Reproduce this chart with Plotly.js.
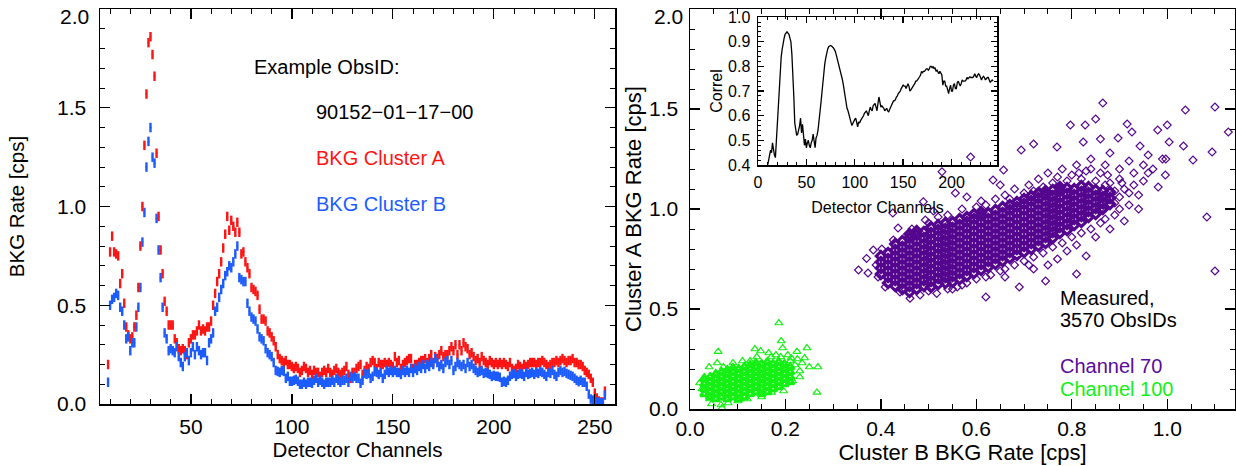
<!DOCTYPE html>
<html>
<head>
<meta charset="utf-8">
<script src="https://cdn.plot.ly/plotly-3.0.1.min.js"></script>
<style>html,body{margin:0;padding:0;background:#fff;}#chart{width:1236px;height:466px;}</style>
</head>
<body>
<div id="chart"></div>
<script>
// ---------------- DATA ----------------
// Example ObsID spectrum: first channel with data
const firstChannel = 9;
// BKG Cluster A rate [cps], channels 9..255
const bkgClusterA = [
  0.20,
  0.77,0.85,0.77,0.76,0.75,0.61,0.66,0.51,0.39,0.35,
  0.33,0.34,0.39,0.45,0.59,0.80,1.00,1.31,1.57,1.83,
  1.86,1.77,1.66,1.27,0.95,0.78,0.66,0.52,0.47,0.40,
  0.40,0.40,0.33,0.31,0.28,0.27,0.28,0.27,0.25,0.31,
  0.33,0.35,0.35,0.37,0.40,0.37,0.38,0.37,0.39,0.39,
  0.42,0.50,0.56,0.62,0.66,0.72,0.79,0.86,0.95,0.88,
  0.93,0.90,0.87,0.92,0.87,0.76,0.77,0.72,0.69,0.66,
  0.59,0.58,0.57,0.55,0.48,0.43,0.43,0.42,0.37,0.36,
  0.34,0.32,0.29,0.25,0.23,0.22,0.21,0.22,0.20,0.20,
  0.19,0.18,0.19,0.18,0.16,0.17,0.19,0.18,0.16,0.17,
  0.15,0.17,0.16,0.16,0.14,0.16,0.17,0.16,0.18,0.16,
  0.15,0.17,0.18,0.16,0.15,0.16,0.17,0.19,0.15,0.13,
  0.16,0.16,0.18,0.19,0.20,0.15,0.17,0.19,0.18,0.21,
  0.22,0.21,0.18,0.21,0.20,0.20,0.21,0.20,0.21,0.20,
  0.19,0.24,0.21,0.22,0.18,0.20,0.21,0.22,0.23,0.23,
  0.18,0.20,0.20,0.21,0.22,0.22,0.23,0.21,0.23,0.25,
  0.21,0.24,0.23,0.25,0.27,0.24,0.25,0.25,0.27,0.29,
  0.27,0.30,0.25,0.30,0.27,0.31,0.29,0.28,0.25,0.26,
  0.24,0.22,0.23,0.21,0.24,0.22,0.21,0.20,0.22,0.21,
  0.20,0.21,0.20,0.21,0.20,0.21,0.20,0.19,0.21,0.18,
  0.17,0.18,0.20,0.19,0.18,0.20,0.19,0.20,0.21,0.21,
  0.21,0.20,0.21,0.21,0.22,0.21,0.20,0.19,0.20,0.21,
  0.21,0.22,0.21,0.22,0.23,0.22,0.21,0.22,0.22,0.23,
  0.21,0.21,0.20,0.20,0.19,0.17,0.16,0.15,0.13,0.11,
  0.055,0.03,0.015,0.01,0.01,0.065
];
// BKG Cluster B rate [cps], channels 9..255
const bkgClusterB = [
  0.11,
  0.50,0.53,0.54,0.56,0.55,0.49,0.47,0.40,0.33,0.34,
  0.27,0.31,0.31,0.39,0.49,0.59,0.82,0.97,1.20,1.33,
  1.40,1.25,1.22,0.94,0.78,0.64,0.49,0.36,0.33,0.27,
  0.28,0.27,0.26,0.29,0.24,0.21,0.19,0.24,0.26,0.22,
  0.26,0.29,0.25,0.29,0.27,0.25,0.26,0.26,0.22,0.31,
  0.33,0.36,0.47,0.49,0.54,0.58,0.61,0.65,0.67,0.70,
  0.69,0.72,0.76,0.80,0.64,0.63,0.62,0.62,0.51,0.47,
  0.44,0.43,0.42,0.38,0.34,0.33,0.32,0.28,0.26,0.25,
  0.24,0.21,0.17,0.165,0.16,0.17,0.165,0.13,0.14,0.115,
  0.115,0.12,0.125,0.115,0.10,0.10,0.11,0.10,0.11,0.11,
  0.105,0.12,0.13,0.11,0.12,0.11,0.10,0.11,0.11,0.11,
  0.12,0.11,0.13,0.12,0.11,0.12,0.12,0.13,0.11,0.14,
  0.13,0.14,0.13,0.13,0.105,0.12,0.155,0.15,0.155,0.13,
  0.14,0.165,0.16,0.15,0.16,0.13,0.15,0.17,0.16,0.17,
  0.16,0.17,0.16,0.16,0.15,0.17,0.16,0.17,0.16,0.18,
  0.16,0.18,0.17,0.19,0.18,0.20,0.18,0.20,0.19,0.21,
  0.20,0.23,0.21,0.19,0.20,0.18,0.21,0.22,0.20,0.22,
  0.17,0.19,0.21,0.20,0.19,0.20,0.18,0.21,0.19,0.20,
  0.18,0.17,0.16,0.165,0.17,0.155,0.16,0.155,0.15,0.14,
  0.145,0.14,0.14,0.135,0.11,0.115,0.11,0.12,0.14,0.15,
  0.155,0.14,0.15,0.155,0.15,0.14,0.16,0.15,0.155,0.16,
  0.15,0.16,0.155,0.165,0.16,0.15,0.14,0.16,0.155,0.17,
  0.15,0.14,0.16,0.17,0.16,0.165,0.155,0.15,0.145,0.14,
  0.13,0.12,0.113,0.12,0.11,0.11,0.09,0.05,0.025,0.02,
  0.015,0.01,0.01,0.005,0.005,0.045
];
const rateError = 0.024;

// Rate-axis ticks (the top one is labelled separately, lower, as in the original)
const rateTickVals = [0, 0.5, 1.0, 1.5, 2.0];
const rateTickText = ['0.0', '0.5', '1.0', '1.5', ''];
const rateTopLabel = '2.0';

// Inset: correlation between clusters vs detector channel (channels 10..243)
const correlFirstChannel = 10;
const correlValues = [
  0.40,0.43,0.44,0.46,0.45,0.49,0.45,0.44,0.43,0.50,
  0.56,0.62,0.72,0.79,0.84,0.87,0.90,0.915,0.93,0.935,
  0.94,0.935,0.93,0.915,0.90,0.85,0.78,0.68,0.57,0.53,
  0.52,0.525,0.54,0.56,0.59,0.53,0.565,0.51,0.48,0.505,
  0.47,0.49,0.50,0.48,0.47,0.49,0.50,0.525,0.49,0.47,
  0.51,0.52,0.54,0.57,0.61,0.65,0.69,0.74,0.77,0.81,
  0.834,0.86,0.87,0.88,0.883,0.885,0.883,0.88,0.875,0.868,
  0.86,0.845,0.83,0.82,0.80,0.785,0.77,0.75,0.73,0.70,
  0.68,0.645,0.63,0.62,0.60,0.587,0.575,0.56,0.57,0.58,
  0.585,0.59,0.575,0.555,0.575,0.57,0.58,0.585,0.59,0.60,
  0.61,0.615,0.62,0.61,0.60,0.62,0.635,0.625,0.62,0.64,
  0.645,0.65,0.635,0.62,0.65,0.676,0.655,0.635,0.64,0.635,
  0.63,0.62,0.625,0.63,0.62,0.615,0.625,0.635,0.645,0.655,
  0.66,0.66,0.665,0.676,0.68,0.69,0.695,0.70,0.71,0.72,
  0.724,0.72,0.72,0.71,0.72,0.73,0.72,0.70,0.705,0.71,
  0.715,0.724,0.73,0.74,0.74,0.745,0.75,0.758,0.765,0.78,
  0.775,0.78,0.78,0.785,0.79,0.79,0.785,0.79,0.80,0.80,
  0.795,0.80,0.79,0.795,0.78,0.785,0.775,0.77,0.78,0.77,
  0.765,0.724,0.74,0.74,0.72,0.72,0.70,0.69,0.71,0.724,
  0.70,0.70,0.725,0.73,0.71,0.71,0.735,0.74,0.73,0.72,
  0.73,0.745,0.74,0.74,0.74,0.745,0.755,0.75,0.755,0.758,
  0.755,0.755,0.755,0.76,0.77,0.76,0.755,0.765,0.77,0.765,
  0.75,0.745,0.755,0.76,0.755,0.745,0.75,0.755,0.755,0.745,
  0.735,0.74,0.745,0.74
];

// Channel 70: [Cluster B rate, Cluster A rate] per ObsID (dense core)
const ch70Core = [
  [0.400,0.675],[0.400,0.705],[0.400,0.735],[0.400,0.765],
  [0.415,0.63],[0.415,0.66],[0.415,0.69],[0.415,0.72],[0.415,0.75],[0.415,0.78],
  [0.430,0.615],[0.430,0.645],[0.430,0.675],[0.430,0.705],[0.430,0.735],[0.430,0.765],[0.430,0.795],[0.430,0.825],
  [0.445,0.60],[0.445,0.63],[0.445,0.66],[0.445,0.69],[0.445,0.72],[0.445,0.75],[0.445,0.78],[0.445,0.81],[0.445,0.84],
  [0.460,0.585],[0.460,0.615],[0.460,0.645],[0.460,0.675],[0.460,0.705],[0.460,0.735],[0.460,0.765],[0.460,0.795],[0.460,0.825],[0.460,0.855],[0.460,0.875],
  [0.475,0.60],[0.475,0.63],[0.475,0.66],[0.475,0.69],[0.475,0.72],[0.475,0.75],[0.475,0.78],[0.475,0.81],[0.475,0.84],[0.475,0.87],[0.475,0.89],
  [0.490,0.615],[0.490,0.645],[0.490,0.675],[0.490,0.705],[0.490,0.735],[0.490,0.765],[0.490,0.795],[0.490,0.825],[0.490,0.855],[0.490,0.885],
  [0.505,0.61],[0.505,0.64],[0.505,0.67],[0.505,0.70],[0.505,0.73],[0.505,0.76],[0.505,0.79],[0.505,0.82],[0.505,0.85],[0.505,0.88],[0.505,0.91],
  [0.520,0.625],[0.520,0.655],[0.520,0.685],[0.520,0.715],[0.520,0.745],[0.520,0.775],[0.520,0.805],[0.520,0.835],[0.520,0.865],[0.520,0.895],[0.520,0.92],
  [0.535,0.63],[0.535,0.66],[0.535,0.69],[0.535,0.72],[0.535,0.75],[0.535,0.78],[0.535,0.81],[0.535,0.84],[0.535,0.87],[0.535,0.90],[0.535,0.93],
  [0.550,0.635],[0.550,0.665],[0.550,0.695],[0.550,0.725],[0.550,0.755],[0.550,0.785],[0.550,0.815],[0.550,0.845],[0.550,0.875],[0.550,0.905],[0.550,0.935],
  [0.565,0.65],[0.565,0.68],[0.565,0.71],[0.565,0.74],[0.565,0.77],[0.565,0.80],[0.565,0.83],[0.565,0.86],[0.565,0.89],[0.565,0.92],[0.565,0.95],
  [0.580,0.665],[0.580,0.695],[0.580,0.725],[0.580,0.755],[0.580,0.785],[0.580,0.815],[0.580,0.845],[0.580,0.875],[0.580,0.905],[0.580,0.935],[0.580,0.96],
  [0.595,0.68],[0.595,0.71],[0.595,0.74],[0.595,0.77],[0.595,0.80],[0.595,0.83],[0.595,0.86],[0.595,0.89],[0.595,0.92],[0.595,0.95],[0.595,0.975],
  [0.610,0.695],[0.610,0.725],[0.610,0.755],[0.610,0.785],[0.610,0.815],[0.610,0.845],[0.610,0.875],[0.610,0.905],[0.610,0.935],[0.610,0.965],[0.610,0.985],
  [0.625,0.71],[0.625,0.74],[0.625,0.77],[0.625,0.80],[0.625,0.83],[0.625,0.86],[0.625,0.89],[0.625,0.92],[0.625,0.95],[0.625,0.98],
  [0.640,0.725],[0.640,0.755],[0.640,0.785],[0.640,0.815],[0.640,0.845],[0.640,0.875],[0.640,0.905],[0.640,0.935],[0.640,0.965],[0.640,0.995],
  [0.655,0.74],[0.655,0.77],[0.655,0.80],[0.655,0.83],[0.655,0.86],[0.655,0.89],[0.655,0.92],[0.655,0.95],[0.655,0.98],[0.655,1.01],
  [0.670,0.755],[0.670,0.785],[0.670,0.815],[0.670,0.845],[0.670,0.875],[0.670,0.905],[0.670,0.935],[0.670,0.965],[0.670,0.995],[0.670,1.02],
  [0.685,0.77],[0.685,0.80],[0.685,0.83],[0.685,0.86],[0.685,0.89],[0.685,0.92],[0.685,0.95],[0.685,0.98],[0.685,1.01],[0.685,1.035],
  [0.700,0.785],[0.700,0.815],[0.700,0.845],[0.700,0.875],[0.700,0.905],[0.700,0.935],[0.700,0.965],[0.700,0.995],[0.700,1.025],[0.700,1.05],
  [0.715,0.80],[0.715,0.83],[0.715,0.86],[0.715,0.89],[0.715,0.92],[0.715,0.95],[0.715,0.98],[0.715,1.01],[0.715,1.04],[0.715,1.065],
  [0.730,0.815],[0.730,0.845],[0.730,0.875],[0.730,0.905],[0.730,0.935],[0.730,0.965],[0.730,0.995],[0.730,1.025],[0.730,1.055],[0.730,1.08],
  [0.745,0.83],[0.745,0.86],[0.745,0.89],[0.745,0.92],[0.745,0.95],[0.745,0.98],[0.745,1.01],[0.745,1.04],[0.745,1.07],[0.745,1.09],
  [0.760,0.855],[0.760,0.885],[0.760,0.915],[0.760,0.945],[0.760,0.975],[0.760,1.005],[0.760,1.035],[0.760,1.065],[0.760,1.095],
  [0.775,0.88],[0.775,0.91],[0.775,0.94],[0.775,0.97],[0.775,1.00],[0.775,1.03],[0.775,1.06],[0.775,1.09],[0.775,1.11],
  [0.790,0.895],[0.790,0.925],[0.790,0.955],[0.790,0.985],[0.790,1.015],[0.790,1.045],[0.790,1.075],[0.790,1.105],
  [0.805,0.92],[0.805,0.95],[0.805,0.98],[0.805,1.01],[0.805,1.04],[0.805,1.07],[0.805,1.10],
  [0.820,0.935],[0.820,0.965],[0.820,0.995],[0.820,1.025],[0.820,1.055],[0.820,1.085],[0.820,1.115],
  [0.835,0.96],[0.835,0.99],[0.835,1.02],[0.835,1.05],[0.835,1.08],[0.835,1.11],
  [0.850,0.975],[0.850,1.005],[0.850,1.035],[0.850,1.065],[0.850,1.095],
  [0.865,1.00],[0.865,1.03],[0.865,1.06],[0.865,1.09],
  [0.880,1.025],[0.880,1.055],[0.880,1.085]
];
// Channel 70: scattered ObsIDs around the core
const ch70Outer = [
  [0.353,0.695],[0.370,0.753],[0.373,0.680],[0.384,0.795],[0.390,0.720],[0.394,0.660],[0.409,0.610],
  [0.402,0.800],[0.426,0.845],[0.440,0.585],[0.461,0.554],[0.482,0.570],[0.517,0.578],[0.500,0.590],
  [0.540,0.600],[0.560,0.610],[0.580,0.630],[0.620,0.560],[0.600,0.650],[0.630,0.670],[0.650,0.690],
  [0.660,0.660],[0.690,0.610],[0.680,0.720],[0.700,0.740],[0.720,0.700],[0.720,0.760],[0.745,0.640],
  [0.740,0.780],[0.750,0.720],[0.760,0.810],[0.770,0.750],[0.780,0.830],[0.790,0.790],[0.810,0.675],
  [0.800,0.860],[0.810,0.820],[0.820,0.880],[0.830,0.765],[0.840,0.900],[0.850,0.860],[0.860,0.930],
  [0.870,0.950],[0.880,0.900],[0.890,0.970],[0.900,1.000],[0.910,0.940],[0.920,1.020],[0.940,1.000],
  [1.100,0.690],[1.083,0.960],
  [0.425,0.980],[0.436,0.905],[0.465,0.900],[0.489,1.037],[0.510,0.990],[0.493,0.945],[0.500,0.930],
  [0.520,0.960],[0.540,0.970],[0.528,1.187],[0.556,1.080],[0.570,1.000],[0.580,1.060],[0.588,1.260],
  [0.600,1.010],[0.610,1.040],[0.635,1.145],[0.620,1.020],[0.640,1.050],[0.657,1.195],[0.660,1.070],
  [0.650,1.120],[0.670,1.050],[0.680,1.100],[0.694,1.295],[0.700,1.080],[0.720,1.325],[0.710,1.120],
  [0.720,1.090],[0.730,1.150],[0.740,1.110],[0.750,1.180],[0.760,1.130],[0.769,1.310],[0.770,1.160],
  [0.780,1.200],[0.797,1.420],[0.790,1.140],[0.800,1.170],[0.810,1.220],[0.824,1.335],[0.828,1.420],
  [0.820,1.150],[0.830,1.190],[0.840,1.250],[0.850,1.450],[0.860,1.350],[0.865,1.530],[0.850,1.140],
  [0.860,1.180],[0.870,1.220],[0.880,1.130],[0.880,1.280],[0.897,1.355],[0.900,1.200],[0.900,1.150],
  [0.916,1.425],[0.920,1.240],[0.926,1.385],[0.930,1.180],[0.943,1.315],[0.950,1.220],[0.960,1.270],
  [0.970,1.200],[0.980,1.395],[0.981,1.110],[0.990,1.250],[0.996,1.170],[0.997,1.250],[1.000,1.420],
  [1.004,1.335],[1.034,1.315],[1.038,1.495],[1.054,1.245],[1.094,1.285],[1.100,1.510],[1.128,1.385],
  [0.890,1.090],[0.900,1.060],[0.910,1.100],[0.870,1.120],[0.920,1.080],[0.930,1.120],[0.950,1.140],
  [0.940,1.070],[0.960,1.180],[0.890,1.030],[0.905,1.130],[0.870,1.060],[0.550,0.600],[0.620,0.660],
  [0.660,0.700],[0.710,0.720],[0.570,0.620],[0.860,1.000],[0.875,1.170],[0.840,1.200],[0.815,1.180]
];
// Channel 100: [Cluster B rate, Cluster A rate] per ObsID (dense core)
const ch100Core = [
  [0.030,0.075],[0.030,0.10],[0.030,0.125],[0.030,0.15],
  [0.042,0.06],[0.042,0.085],[0.042,0.11],[0.042,0.135],[0.042,0.16],
  [0.054,0.05],[0.054,0.075],[0.054,0.10],[0.054,0.125],[0.054,0.15],[0.054,0.175],
  [0.066,0.06],[0.066,0.085],[0.066,0.11],[0.066,0.135],[0.066,0.16],[0.066,0.185],
  [0.078,0.05],[0.078,0.075],[0.078,0.10],[0.078,0.125],[0.078,0.15],[0.078,0.175],[0.078,0.195],
  [0.090,0.06],[0.090,0.085],[0.090,0.11],[0.090,0.135],[0.090,0.16],[0.090,0.185],[0.090,0.205],
  [0.102,0.05],[0.102,0.075],[0.102,0.10],[0.102,0.125],[0.102,0.15],[0.102,0.175],[0.102,0.20],
  [0.114,0.06],[0.114,0.085],[0.114,0.11],[0.114,0.135],[0.114,0.16],[0.114,0.185],[0.114,0.21],
  [0.126,0.075],[0.126,0.10],[0.126,0.125],[0.126,0.15],[0.126,0.175],[0.126,0.20],[0.126,0.22],
  [0.138,0.085],[0.138,0.11],[0.138,0.135],[0.138,0.16],[0.138,0.185],[0.138,0.21],[0.138,0.23],
  [0.150,0.075],[0.150,0.10],[0.150,0.125],[0.150,0.15],[0.150,0.175],[0.150,0.20],[0.150,0.225],
  [0.162,0.085],[0.162,0.11],[0.162,0.135],[0.162,0.16],[0.162,0.185],[0.162,0.21],[0.162,0.235],
  [0.174,0.10],[0.174,0.125],[0.174,0.15],[0.174,0.175],[0.174,0.20],[0.174,0.225],
  [0.186,0.11],[0.186,0.135],[0.186,0.16],[0.186,0.185],[0.186,0.21],[0.186,0.235],
  [0.198,0.125],[0.198,0.15],[0.198,0.175],[0.198,0.20],[0.198,0.225],
  [0.210,0.135],[0.210,0.16],[0.210,0.185],[0.210,0.21]
];
// Channel 100: scattered ObsIDs
const ch100Outer = [
  [0.186,0.43],[0.191,0.34],[0.194,0.305],[0.245,0.305],[0.224,0.287],[0.240,0.255],[0.268,0.21],
  [0.250,0.21],[0.266,0.083],[0.196,0.09],[0.171,0.083],[0.230,0.16],[0.212,0.255],[0.136,0.30],
  [0.059,0.287],[0.057,0.23],[0.040,0.21],[0.030,0.16],[0.025,0.10],[0.041,0.05],[0.045,0.025],
  [0.065,0.02],[0.067,0.005],[0.148,0.29],[0.165,0.28],[0.126,0.24],[0.200,0.21],[0.220,0.22],
  [0.230,0.19],[0.215,0.14],[0.225,0.25],[0.210,0.24],[0.100,0.04],[0.120,0.05],[0.080,0.03],
  [0.150,0.06],[0.140,0.26],[0.110,0.24],[0.090,0.23],[0.070,0.21],[0.170,0.26],[0.180,0.27],
  [0.190,0.26],[0.205,0.27],[0.235,0.23],[0.020,0.13]
];

// ---------------- STYLE ----------------
const FONT = 'Liberation Sans, Arial, Helvetica, sans-serif';
const RED = '#ff1414';
const BLUE = '#1c5cff';
const PURPLE = '#55068f';
const PURPLE_TXT = '#5a0a9c';
const GREEN = '#14f014';

const channels = bkgClusterA.map((_, i) => firstChannel + i);
const correlChannels = correlValues.map((_, i) => correlFirstChannel + i);

const traces = [
  {x: channels, y: bkgClusterA, xaxis: 'x', yaxis: 'y', type: 'scatter', mode: 'markers',
   marker: {size: 2, color: RED}, error_y: {type: 'constant', value: rateError, width: 0, thickness: 2.4, color: RED},
   name: 'BKG Cluster A'},
  {x: channels, y: bkgClusterB, xaxis: 'x', yaxis: 'y', type: 'scatter', mode: 'markers',
   marker: {size: 2, color: BLUE}, error_y: {type: 'constant', value: rateError, width: 0, thickness: 2.4, color: BLUE},
   name: 'BKG Cluster B'},
  {x: ch70Outer.map(p => p[0]), y: ch70Outer.map(p => p[1]), xaxis: 'x2', yaxis: 'y2', type: 'scatter', mode: 'markers',
   marker: {symbol: 'diamond-open', size: 6, color: PURPLE, line: {width: 1.2, color: PURPLE}}, name: 'Channel 70'},
  {x: ch70Core.map(p => p[0]), y: ch70Core.map(p => p[1]), xaxis: 'x2', yaxis: 'y2', type: 'scatter', mode: 'markers',
   marker: {symbol: 'diamond-open', size: 7, color: PURPLE, line: {width: 3.2, color: PURPLE}}, name: 'Channel 70'},
  {x: ch100Outer.map(p => p[0]), y: ch100Outer.map(p => p[1]), xaxis: 'x2', yaxis: 'y2', type: 'scatter', mode: 'markers',
   marker: {symbol: 'triangle-up-open', size: 7, color: GREEN, line: {width: 1.2, color: GREEN}}, name: 'Channel 100'},
  {x: ch100Core.map(p => p[0]), y: ch100Core.map(p => p[1]), xaxis: 'x2', yaxis: 'y2', type: 'scatter', mode: 'markers',
   marker: {symbol: 'triangle-up-open', size: 7, color: GREEN, line: {width: 2.8, color: GREEN}}, name: 'Channel 100'},
  {x: correlChannels, y: correlValues, xaxis: 'x3', yaxis: 'y3', type: 'scatter', mode: 'lines',
   line: {color: '#000', width: 1.3}, name: 'Correl'}
];

function axis(extra) {
  return Object.assign({
    showline: true, linecolor: '#000', linewidth: 1.5, mirror: 'ticks',
    ticks: 'inside', ticklen: 10, tickwidth: 1.3, tickcolor: '#000',
    showgrid: false, zeroline: false,
    tickfont: {family: FONT, size: 21, color: '#000'}
  }, extra);
}
function minor(d, len) {
  return {ticks: 'inside', ticklen: len || 5, tickwidth: 1, tickcolor: '#000', dtick: d, showgrid: false};
}

const layout = {
  width: 1236, height: 466,
  margin: {l: 0, r: 0, t: 0, b: 0},
  paper_bgcolor: '#fff', plot_bgcolor: 'rgba(0,0,0,0)',
  showlegend: false,
  font: {family: FONT, color: '#000'},
  xaxis: axis({domain: [100/1236, 615/1236], anchor: 'y', range: [5, 260], dtick: 50, tick0: 0,
    minor: minor(10), ticklabelstandoff: 3,
    title: {text: 'Detector Channels', font: {family: FONT, size: 20.5}, standoff: 4}}),
  yaxis: axis({domain: [62/466, 457/466], anchor: 'x', range: [0, 2.0005],
    tickmode: 'array', tickvals: rateTickVals, ticktext: rateTickText,
    minor: {ticks: 'inside', ticklen: 5, tickwidth: 1, tickcolor: '#000', tickmode: 'linear', tick0: 0, dtick: 0.1, showgrid: false},
    ticklabelstandoff: 8,
    title: {text: 'BKG Rate [cps]', font: {family: FONT, size: 20.5}, standoff: 27}}),
  xaxis2: axis({domain: [690/1236, 1235/1236], anchor: 'y2', range: [0, 1.142], dtick: 0.2, tick0: 0, tickformat: '.1f',
    minor: minor(0.05), ticklabelstandoff: 0,
    title: {text: 'Cluster B BKG Rate [cps]', font: {family: FONT, size: 22}, standoff: 4}}),
  yaxis2: axis({domain: [57/466, 457/466], anchor: 'x2', range: [0, 2.0005],
    tickmode: 'array', tickvals: rateTickVals, ticktext: rateTickText,
    minor: {ticks: 'inside', ticklen: 5, tickwidth: 1, tickcolor: '#000', tickmode: 'linear', tick0: 0, dtick: 0.1, showgrid: false},
    ticklabelstandoff: 6,
    title: {text: 'Cluster A BKG Rate [cps]', font: {family: FONT, size: 22}, standoff: 1}}),
  xaxis3: axis({domain: [758/1236, 997/1236], anchor: 'y3', range: [0, 247], dtick: 50, tick0: 0,
    ticklen: 6, minor: minor(10, 3), ticklabelstandoff: 2,
    tickfont: {family: FONT, size: 16, color: '#000'},
    title: {text: 'Detector Channels', font: {family: FONT, size: 16}, standoff: 12}}),
  yaxis3: axis({domain: [301/466, 449/466], anchor: 'x3', range: [0.4, 1.0005], dtick: 0.1, tick0: 0, tickformat: '.1f',
    ticklen: 6, minor: minor(0.02, 3), ticklabelstandoff: 3,
    tickfont: {family: FONT, size: 16, color: '#000'},
    title: {text: 'Correl', font: {family: FONT, size: 16}, standoff: 1}}),
  annotations: [
    {text: 'Example ObsID:', x: 253/1236, y: 1 - 67/466, color: '#000'},
    {text: '90152\u221201\u221217\u221200', x: 315/1236, y: 1 - 112/466, color: '#000'},
    {text: 'BKG Cluster A', x: 315/1236, y: 1 - 158/466, color: RED},
    {text: 'BKG Cluster B', x: 315/1236, y: 1 - 204/466, color: BLUE},
    {text: 'Measured,', x: 1059/1236, y: 1 - 298/466, color: '#000'},
    {text: '3570 ObsIDs', x: 1059/1236, y: 1 - 320/466, color: '#000'},
    {text: 'Channel 70', x: 1059/1236, y: 1 - 366/466, color: PURPLE_TXT},
    {text: 'Channel 100', x: 1059/1236, y: 1 - 389/466, color: GREEN}
  ].map(a => ({text: a.text, x: a.x, y: a.y, xref: 'paper', yref: 'paper', xanchor: 'left', yanchor: 'middle',
               showarrow: false, borderpad: 0, font: {family: FONT, size: 20, color: a.color}}))
   .concat([
    // top tick labels of the two rate axes, placed just below the 2.0 tick as in the original
    {text: rateTopLabel, x: 90/1236, y: 1 - 17/466, xref: 'paper', yref: 'paper', xanchor: 'right', yanchor: 'middle',
     showarrow: false, borderpad: 0, font: {family: FONT, size: 21, color: '#000'}},
    {text: rateTopLabel, x: 684/1236, y: 1 - 17/466, xref: 'paper', yref: 'paper', xanchor: 'right', yanchor: 'middle',
     showarrow: false, borderpad: 0, font: {family: FONT, size: 21, color: '#000'}}
   ])
};

Plotly.newPlot('chart', traces, layout, {staticPlot: true, displayModeBar: false});
</script>
</body>
</html>
